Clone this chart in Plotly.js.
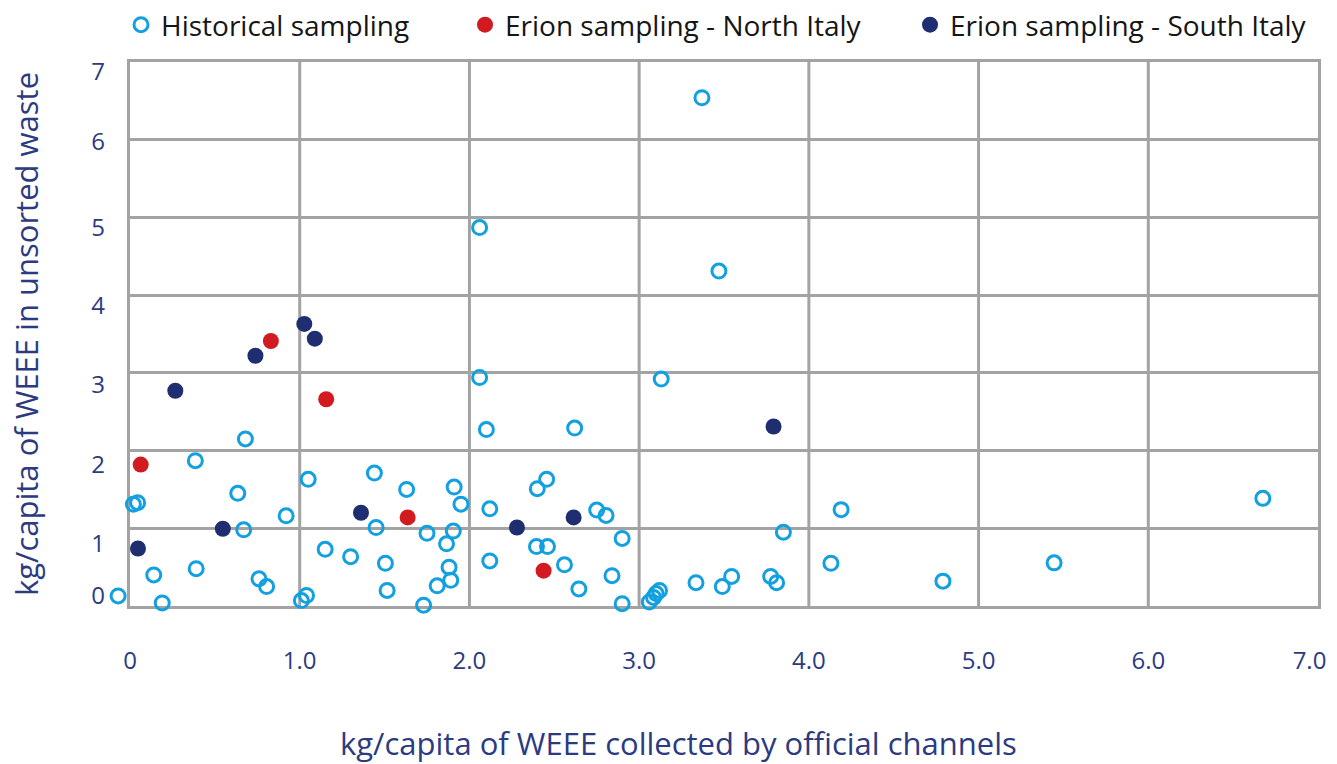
<!DOCTYPE html>
<html>
<head>
<meta charset="utf-8">
<script src="https://cdn.plot.ly/plotly-3.0.1.min.js"></script>
<style>html,body{margin:0;padding:0;background:#fff;}#chart{width:1337px;height:764px;}</style>
</head>
<body>
<div id="chart"></div>
<script>
// Historical sampling (hollow light-blue circles)
const histX = [3.37, 2.06, 3.47, 2.06, 3.13, 2.10, 2.62, 0.68, 0.385, 0.635, 0.02, 0.045, 0.92, 0.67, 1.05, 1.44, 1.63, 1.91, 1.95, 2.12,
  1.45, 1.75, 1.905, 1.865, 1.15, 1.30, 1.505, 1.88, 1.89, 1.81, 1.515, 2.12, 0.39, 0.14, 0.76, 0.805, -0.07, 0.19, 1.01, 1.04,
  1.73, 2.40, 2.455, 2.75, 2.805, 2.90, 2.395, 2.46, 2.56, 2.84, 2.645, 2.90, 3.06, 3.085, 3.10, 3.12, 3.335, 3.49, 3.545, 3.775,
  3.81, 3.85, 4.19, 4.13, 4.79, 5.445, 6.675];
const histY = [6.54, 4.87, 4.31, 2.94, 2.92, 2.27, 2.29, 2.15, 1.87, 1.45, 1.31, 1.33, 1.16, 0.98, 1.63, 1.71, 1.50, 1.53, 1.31, 1.25,
  1.01, 0.935, 0.965, 0.80, 0.73, 0.635, 0.55, 0.50, 0.33, 0.26, 0.20, 0.58, 0.48, 0.40, 0.35, 0.25, 0.13, 0.04, 0.07, 0.135,
  0.01, 1.51, 1.63, 1.235, 1.165, 0.87, 0.765, 0.765, 0.53, 0.39, 0.22, 0.03, 0.05, 0.11, 0.16, 0.20, 0.30, 0.25, 0.38, 0.38,
  0.30, 0.95, 1.24, 0.55, 0.32, 0.555, 1.385];

// Erion sampling - North Italy (red)
const northX = [0.063, 0.83, 1.156, 1.636, 2.437];
const northY = [1.82, 3.41, 2.66, 1.14, 0.455];

// Erion sampling - South Italy (navy)
const southX = [1.027, 1.089, 0.739, 0.267, 1.361, 0.547, 0.047, 2.28, 2.614, 3.792];
const southY = [3.63, 3.44, 3.22, 2.77, 1.20, 0.994, 0.74, 1.01, 1.14, 2.31];

// Axis tick labels
const xTickVals = [0, 1, 2, 3, 4, 5, 6, 6.95];
const xTickText = ['0', '1.0', '2.0', '3.0', '4.0', '5.0', '6.0', '7.0'];
const yLabelVals = [0.13, 0.80, 1.82, 2.85, 3.87, 4.87, 5.97, 6.88];
const yLabelText = ['0', '1', '2', '3', '4', '5', '6', '7'];
const gridVals = [0, 1, 2, 3, 4, 5, 6, 7];

const names = ['Historical sampling', 'Erion sampling - North Italy', 'Erion sampling - South Italy'];
const FONT = '"Open Sans", Lato, sans-serif';
const NAVY_TXT = '#2c3b80';
const GRID = '#a3a3a3';

// plot geometry (pixels): main axis area spans 130..1318; an extra 20px on the left
// lets markers sitting just below x = 0 stay visible.
const ML = 110, MR = 19, W = 1337;
const areaW = W - ML - MR;            // 1208
const extra = 130 - ML;                // 20
const unit = (areaW - extra) / 7;      // px per unit

const traces = [
  {type: 'scatter', mode: 'markers', name: names[1], x: northX, y: northY, cliponaxis: false, legend: 'legend2',
   marker: {symbol: 'circle', size: 16, color: '#d21a21'}},
  {type: 'scatter', mode: 'markers', name: names[2], x: southX, y: southY, cliponaxis: false, legend: 'legend3',
   marker: {symbol: 'circle', size: 16, color: '#1e2e70'}},
  {type: 'scatter', mode: 'markers', name: names[0], x: histX, y: histY, xaxis: 'x3', yaxis: 'y3', cliponaxis: false, legend: 'legend',
   marker: {symbol: 'circle-open', size: 14, color: '#12a0e0', line: {width: 3, color: '#12a0e0'}}},
  {type: 'scatter', mode: 'markers', x: [], y: [], xaxis: 'x', yaxis: 'y2', showlegend: false, hoverinfo: 'skip'}
];

const legendBase = {orientation: 'h', xref: 'container', yref: 'container', yanchor: 'middle', y: 1 - 25 / 764,
  font: {family: FONT, size: 28, color: '#151515'}, bgcolor: 'rgba(0,0,0,0)', borderwidth: 0};

const layout = {
  width: 1337, height: 764,
  margin: {l: ML, r: MR, t: 62, b: 158},
  paper_bgcolor: '#ffffff', plot_bgcolor: 'rgba(0,0,0,0)',
  font: {family: FONT, color: NAVY_TXT},
  showlegend: true,
  legend: Object.assign({}, legendBase, {x: 121 / 1337}),
  legend2: Object.assign({}, legendBase, {x: 465 / 1337}),
  legend3: Object.assign({}, legendBase, {x: 910 / 1337}),
  xaxis: {domain: [extra / areaW, 1], range: [0, 7], tickmode: 'array', tickvals: xTickVals, ticktext: xTickText,
    showgrid: false, zeroline: false, showline: true, mirror: true, linecolor: GRID, linewidth: 3,
    ticks: '', ticklabelstandoff: 31, tickfont: {family: FONT, size: 24, color: NAVY_TXT}},
  xaxis3: {domain: [0, 1], range: [-extra / unit, 7], anchor: 'y3', visible: false,
    showgrid: false, zeroline: false},
  yaxis3: {domain: [0, 1], range: [0, 7], anchor: 'x3', visible: false, showgrid: false, zeroline: false},
  yaxis: {anchor: 'x', range: [0, 7], tickmode: 'array', tickvals: gridVals, showticklabels: false,
    showgrid: true, gridcolor: GRID, gridwidth: 3, zeroline: false, showline: true, mirror: true,
    linecolor: GRID, linewidth: 3, ticks: '',
    title: {text: 'kg/capita of WEEE in unsorted waste', standoff: 80, font: {family: FONT, size: 31, color: NAVY_TXT}}},
  yaxis2: {anchor: 'x', range: [0, 7], overlaying: 'y', side: 'left', tickmode: 'array', tickvals: yLabelVals, ticktext: yLabelText,
    showgrid: false, zeroline: false, showline: false, ticks: '', ticklabelstandoff: 24,
    tickfont: {family: FONT, size: 24, color: NAVY_TXT}},
  shapes: gridVals.slice(1, 7).map(v => ({type: 'line', xref: 'x', yref: 'paper', x0: v, x1: v, y0: 0, y1: 1,
    line: {color: GRID, width: 3}, layer: 'below'})),
  annotations: [{text: 'kg/capita of WEEE collected by official channels', xref: 'paper', yref: 'paper',
    x: (678 - ML) / areaW, y: (606 - 743) / 544, xanchor: 'center', yanchor: 'middle', showarrow: false,
    font: {family: FONT, size: 31, color: NAVY_TXT}}]
};

Plotly.newPlot('chart', traces, layout, {displayModeBar: false, staticPlot: true});
</script>
</body>
</html>
